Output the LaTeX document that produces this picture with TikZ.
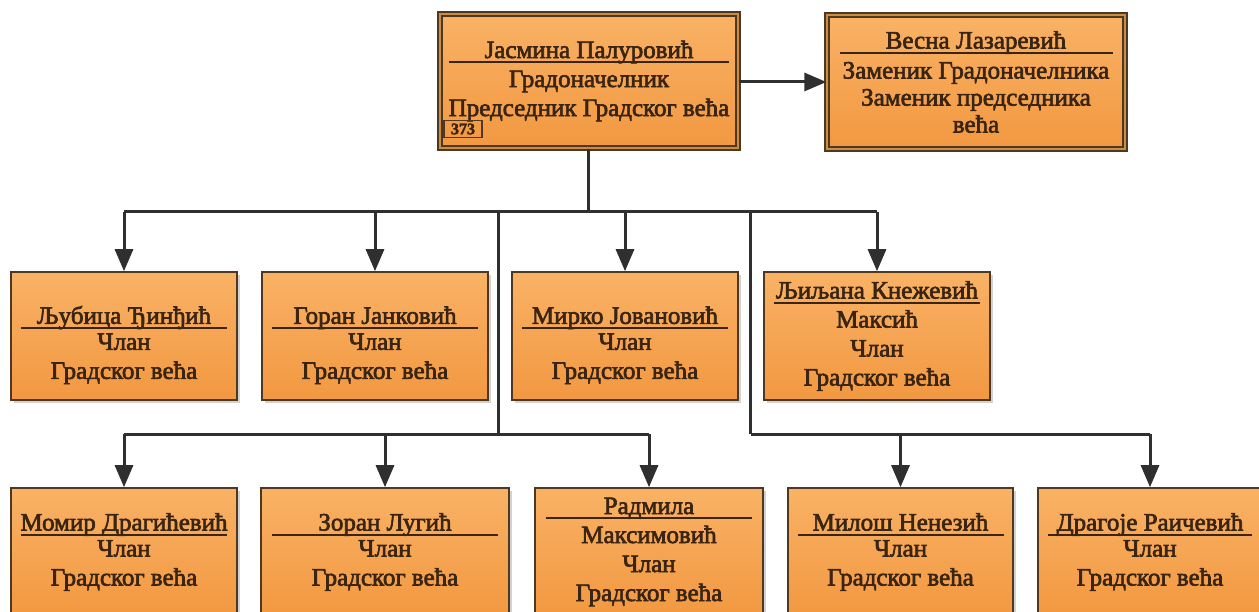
\documentclass[tikz,border=0pt]{standalone}
\usepackage{fontspec}
\setmainfont{Liberation Serif}[FakeBold=2.5]
\usetikzlibrary{arrows.meta,shadows}
\definecolor{edge}{HTML}{4E3822}
\definecolor{gap}{HTML}{C98E45}
\definecolor{topc}{HTML}{F9B265}
\definecolor{botc}{HTML}{F29841}
\definecolor{txt}{HTML}{3A2412}
\definecolor{conn}{HTML}{2F2F2F}
\newcommand\nm[2]{\ooalign{\hfil#2\hfil\cr\hfil\rule[-5pt]{#1}{1.8pt}\hfil\cr}}
\newcommand\lift{\rule{0pt}{36pt}}
\tikzset{
  orgbox/.style={rectangle, draw=edge, line width=1.6pt, top color=topc, bottom color=botc,
    drop shadow={opacity=0.35, shadow xshift=3pt, shadow yshift=-3pt},
    text=txt, align=center, inner sep=0pt, minimum height=128pt, minimum width=#1,
    font=\fontsize{25}{29}\selectfont},
  headbox/.style={rectangle, draw=edge, line width=1.3pt, double=gap, double distance=2.5pt,
    top color=topc, bottom color=botc,
    drop shadow={opacity=0.35, shadow xshift=3pt, shadow yshift=-3pt},
    text=txt, align=center, inner sep=0pt, minimum height=134pt, minimum width=298pt,
    font=\fontsize{25}{29}\selectfont},
  line/.style={draw=conn, line width=3pt},
  arr/.style={line, -{Triangle[width=18pt,length=22pt]}}
}
\begin{document}
\begin{tikzpicture}[x=1pt,y=-1pt]
\clip (0,0) rectangle (1259,612);
\fill[white] (0,0) rectangle (1259,612);
% head boxes
\node[headbox] (main) at (589,81) {\nm{280pt}{Јасмина Палуровић}\\Градоначелник\\Председник Градског већа};
\node[draw=edge, line width=1.2pt, inner sep=1pt, minimum width=38pt, minimum height=17pt,
  text=txt, font=\fontsize{16}{17}\selectfont\bfseries] (num) at (463,129) {373};
\node[headbox] (dep) at (976,82) {\nm{273pt}{Весна Лазаревић}\\[1pt]Заменик Градоначелника\\[-2pt]Заменик председника\\[-2pt]већа};
% row 1
\node[orgbox=226pt] (a1) at (124,336) {\lift\nm{206pt}{Љубица Ђинђић}\\[-3pt]Члан\\Градског већа};
\node[orgbox=226pt] (a2) at (375,336) {\lift\nm{206pt}{Горан Јанковић}\\[-3pt]Члан\\Градског већа};
\node[orgbox=226pt] (a3) at (625,336) {\lift\nm{206pt}{Мирко Јовановић}\\[-3pt]Члан\\Градског већа};
\node[orgbox=226pt] (a4) at (877,336) {\nm{206pt}{Љиљана Кнежевић}\\Максић\\Члан\\Градског већа};
% row 2
\node[orgbox=226pt] (b1) at (124,552) {\nm{206pt}{Момир Драгићевић}\\[-3pt]Члан\\Градског већа};
\node[orgbox=248pt] (b2) at (385,552) {\nm{226pt}{Зоран Лугић}\\[-3pt]Члан\\Градског већа};
\node[orgbox=228pt] (b3) at (649,552) {\nm{206pt}{Радмила}\\Максимовић\\Члан\\Градског већа};
\node[orgbox=225pt] (b4) at (900.5,552) {\nm{206pt}{Милош Ненезић}\\[-3pt]Члан\\Градског већа};
\node[orgbox=224pt] (b5) at (1150,552) {\nm{204pt}{Драгоје Раичевић}\\[-3pt]Члан\\Градског већа};
% connectors
\coordinate (t) at (588,212);
\coordinate (v1) at (498,212);
\coordinate (v2) at (750.5,212);
\coordinate (u) at (498,434);
\draw[line] (main.south -| t) -- (t);
\draw[line] (a1.north |- t) -- (a4.north |- t);
\foreach \n in {a1,a2,a3,a4} \draw[arr] (\n.north |- t) -- (\n.north);
\draw[line] (v1) -- (v1 |- u);
\draw[line] (v2) -- (v2 |- u);
\draw[line] (b1.north |- u) -- (b3.north |- u);
\draw[line] (v2 |- u) -- (b5.north |- u);
\foreach \n in {b1,b2,b3,b4,b5} \draw[arr] (\n.north |- u) -- (\n.north);
\draw[arr] ([yshift=-1pt]main.east) -- ++(24,0) |- (dep.west);
\end{tikzpicture}
\end{document}
